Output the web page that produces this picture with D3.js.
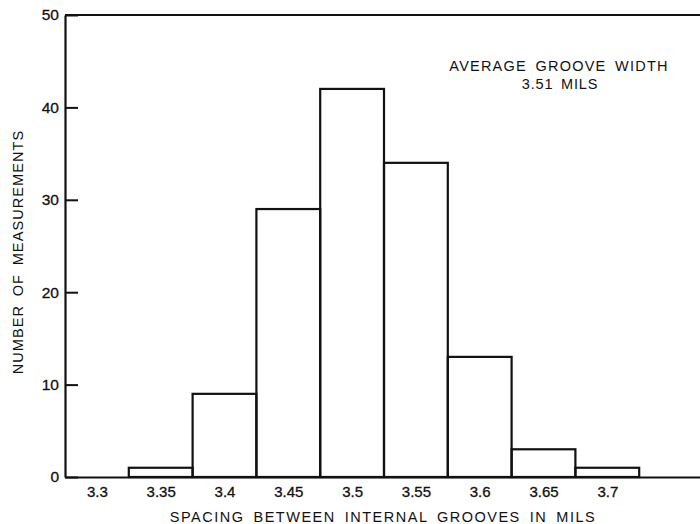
<!DOCTYPE html>
<html>
<head>
<meta charset="utf-8">
<script src="https://cdn.jsdelivr.net/npm/d3@7/dist/d3.min.js"></script>
<style>
	body { margin:0; background:#fff; }
	svg { display:block; }
	text { font-family:"Liberation Sans", Arial, sans-serif; fill:#111; }
</style>
</head>
<body>
<div id="chart"></div>
<script>
// bin centres (mils) and counts
var bins = [3.3, 3.35, 3.4, 3.45, 3.5, 3.55, 3.6, 3.65, 3.7];
var counts = [0, 1, 9, 29, 42, 34, 13, 3, 1];
var tickLabels = ["3.3","3.35","3.4","3.45","3.5","3.55","3.6","3.65","3.7"];
var yTicks = [0, 10, 20, 30, 40, 50];
var binWidth = 0.05;

var W = 700, H = 524;
var mLeft = 65, mTop = 15, mBottom = 477, mRight = 703;

var svg = d3.select("#chart").append("svg")
	.attr("width", W)
	.attr("height", H);

var x = d3.scaleLinear().domain([3.275, 3.775]).range([mLeft, mRight]);
var y = d3.scaleLinear().domain([0, 50]).range([mBottom, mTop]);

// bars
svg.selectAll("rect.bar")
	.data(bins)
	.enter().append("rect")
	.classed("bar", true)
	.attr("x", function(d){ return x(d - binWidth/2); })
	.attr("width", function(d){ return x(d + binWidth/2) - x(d - binWidth/2); })
	.attr("y", function(d,i){ return y(counts[i]); })
	.attr("height", function(d,i){ return y(0) - y(counts[i]); })
	.attr("fill", "none")
	.attr("stroke", "#111")
	.attr("stroke-width", 2.2);

// top line of the frame
svg.append("line").attr("x1", mLeft).attr("x2", mRight + 5).attr("y1", mTop).attr("y2", mTop)
	.attr("stroke", "#111").attr("stroke-width", 2.2);

var yAxis = svg.append("g")
	.attr("transform", "translate(" + mLeft + ",0)")
	.call(d3.axisLeft(y).tickValues(yTicks).tickSizeInner(-13).tickSizeOuter(0).tickPadding(6));
yAxis.select(".domain").attr("stroke", "#111").attr("stroke-width", 2.2);
yAxis.selectAll(".tick line").attr("stroke", "#111").attr("stroke-width", 2);
yAxis.selectAll(".tick text")
	.style("font-family", "Liberation Sans, Arial, sans-serif")
	.style("font-size", "15.5px")
	.attr("fill", "#111")
	.attr("stroke", "#111")
	.attr("stroke-width", 0.3);

var xAxis = svg.append("g")
	.attr("transform", "translate(0," + mBottom + ")")
	.call(d3.axisBottom(x).tickValues(bins).tickSize(0).tickPadding(9)
		.tickFormat(function(d,i){ return tickLabels[i]; }));
xAxis.select(".domain").attr("stroke", "#111").attr("stroke-width", 2.2);
xAxis.selectAll(".tick text")
	.style("font-family", "Liberation Sans, Arial, sans-serif")
	.style("font-size", "15px")
	.attr("fill", "#111")
	.attr("stroke", "#111")
	.attr("stroke-width", 0.3);

// axis titles
svg.append("text")
	.attr("x", 383)
	.attr("y", 522)
	.attr("text-anchor", "middle")
	.style("font-size", "14.5px")
	.style("letter-spacing", "1.5px")
	.style("word-spacing", "3.5px")
	.text("SPACING BETWEEN INTERNAL GROOVES IN MILS");

svg.append("text")
	.attr("transform", "translate(23,252) rotate(-90)")
	.attr("text-anchor", "middle")
	.style("font-size", "14.5px")
	.style("letter-spacing", "1.1px")
	.style("word-spacing", "3.5px")
	.text("NUMBER OF MEASUREMENTS");

// annotation
svg.append("text")
	.attr("x", 559)
	.attr("y", 71)
	.attr("text-anchor", "middle")
	.style("font-size", "14.5px")
	.style("letter-spacing", "1.2px")
	.style("word-spacing", "3.5px")
	.text("AVERAGE GROOVE WIDTH");
svg.append("text")
	.attr("x", 560)
	.attr("y", 89)
	.attr("text-anchor", "middle")
	.style("font-size", "14.5px")
	.style("letter-spacing", "0.8px")
	.style("word-spacing", "3px")
	.text("3.51 MILS");
</script>
</body>
</html>
